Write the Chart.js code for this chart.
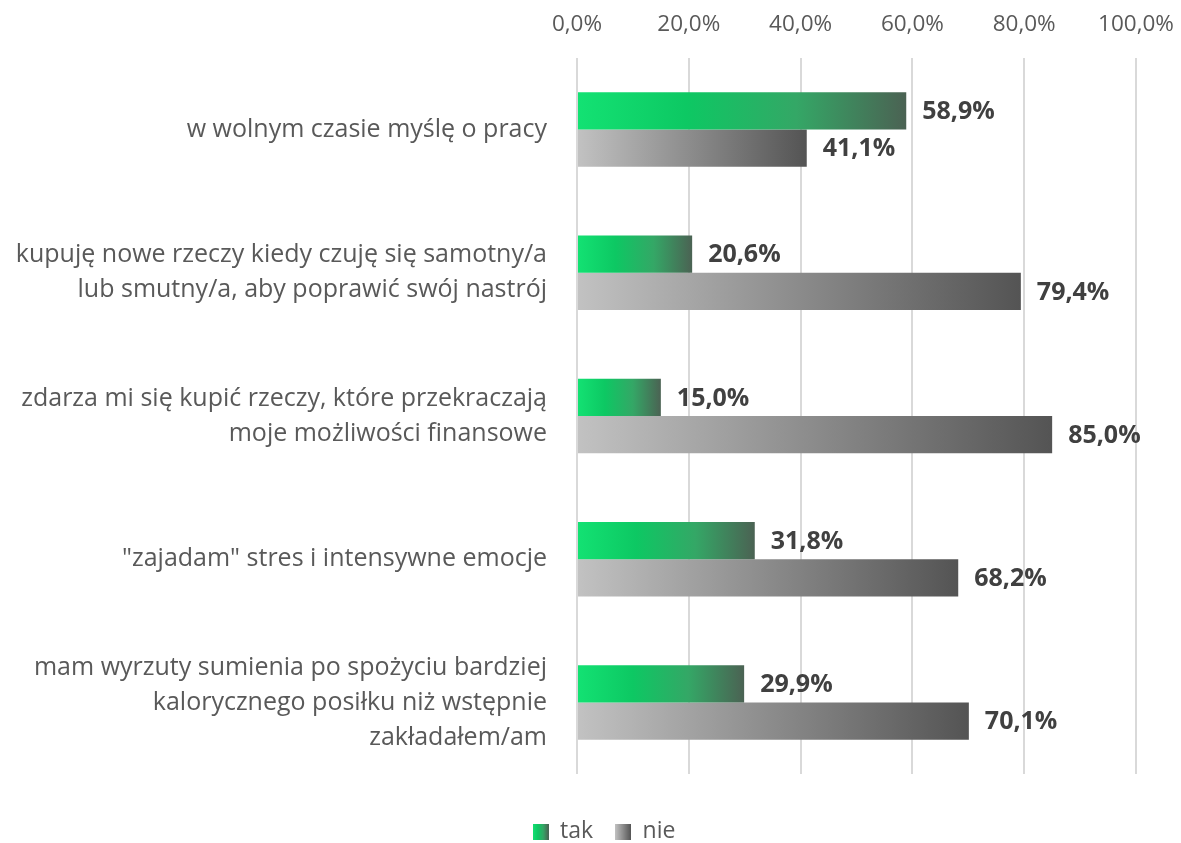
<!DOCTYPE html>
<html>
<head>
<meta charset="utf-8">
<script src="https://cdn.jsdelivr.net/npm/chart.js@4"></script>
<style>
  html, body { margin: 0; padding: 0; background: #fff; }
  #wrap { width: 1181px; height: 843px; }
</style>
</head>
<body>
<div id="wrap"><canvas id="chart"></canvas></div>
<script>
const categories = [
  'w wolnym czasie myślę o pracy',
  ['kupuję nowe rzeczy kiedy czuję się samotny/a', 'lub smutny/a, aby poprawić swój nastrój'],
  ['zdarza mi się kupić rzeczy, które przekraczają', 'moje możliwości finansowe'],
  '"zajadam" stres i intensywne emocje',
  ['mam wyrzuty sumienia po spożyciu bardziej', 'kalorycznego posiłku niż wstępnie', 'zakładałem/am']
];
const takValues = [58.9, 20.6, 15.0, 31.8, 29.9];
const nieValues = [41.1, 79.4, 85.0, 68.2, 70.1];
const tickValues = [0, 20, 40, 60, 80, 100];

const greenStops = ['#13e273', '#0dc863', '#34a766', '#4b6253'];
const grayStops = ['#c2c2c2', '#545454'];

function pct(v) {
  return v.toFixed(1).replace('.', ',') + '%';
}

function barGradient(stops) {
  return function(context) {
    const chart = context.chart;
    if (!chart.chartArea || context.parsed === undefined) return stops[0];
    const x = chart.scales.x;
    const x0 = x.getPixelForValue(0);
    const x1 = x.getPixelForValue(context.parsed.x);
    if (!isFinite(x1) || x1 <= x0) return stops[0];
    const g = chart.ctx.createLinearGradient(x0, 0, x1, 0);
    stops.forEach((c, i) => g.addColorStop(i / (stops.length - 1), c));
    return g;
  };
}

function legendSwatch(stops) {
  const c = document.createElement('canvas');
  c.width = 16; c.height = 16;
  const cx = c.getContext('2d');
  const g = cx.createLinearGradient(0, 0, 16, 0);
  stops.forEach((s, i) => g.addColorStop(i / (stops.length - 1), s));
  cx.fillStyle = g;
  cx.fillRect(0, 0, 16, 16);
  return c;
}

// etykiety wartosci przy slupkach
const valueLabels = {
  id: 'valueLabels',
  afterDatasetsDraw(chart) {
    const ctx = chart.ctx;
    ctx.save();
    ctx.font = 'bold 25px "Open Sans"';
    ctx.fillStyle = '#404040';
    ctx.textAlign = 'left';
    ctx.textBaseline = 'middle';
    chart.data.datasets.forEach((ds, i) => {
      chart.getDatasetMeta(i).data.forEach((bar, j) => {
        ctx.fillText(pct(ds.data[j]), bar.x + 16, bar.y + 1);
      });
    });
    ctx.restore();
  }
};

// legenda troche nizej i w prawo, jak w oryginale
const legendShift = {
  id: 'legendShift',
  afterLayout(chart) {
    const lg = chart.legend;
    if (!lg) return;
    lg.top += 24; lg.bottom += 24;
    lg.left += 36; lg.right += 36;
  }
};

new Chart(document.getElementById('chart'), {
  type: 'bar',
  data: {
    labels: categories,
    datasets: [{
      label: 'tak',
      data: takValues,
      backgroundColor: barGradient(greenStops),
      barPercentage: 1,
      categoryPercentage: 0.52
    }, {
      label: 'nie',
      data: nieValues,
      backgroundColor: barGradient(grayStops),
      barPercentage: 1,
      categoryPercentage: 0.52
    }]
  },
  options: {
    indexAxis: 'y',
    responsive: true,
    maintainAspectRatio: false,
    animation: false,
    layout: { padding: { left: 0, right: 45, top: 0, bottom: 14 } },
    scales: {
      x: {
        position: 'top',
        min: 0,
        max: 100,
        afterBuildTicks: s => { s.ticks = tickValues.map(v => ({ value: v })); },
        afterFit: s => { s.height = 58; s.paddingLeft = 0; s.paddingRight = 0; },
        grid: { color: '#d9d9d9', lineWidth: 2, drawTicks: false },
        border: { display: false },
        ticks: {
          color: '#595959',
          font: { family: 'Open Sans', size: 22.5 },
          padding: 20,
          callback: v => pct(v)
        }
      },
      y: {
        afterFit: s => { s.width = 577; s.paddingTop = 0; s.paddingBottom = 0; },
        grid: { display: false },
        border: { display: false },
        ticks: {
          color: '#595959',
          font: { family: 'Open Sans', size: 25, lineHeight: 1.4 },
          padding: 22,
          crossAlign: 'near'
        }
      }
    },
    plugins: {
      tooltip: { enabled: false },
      legend: {
        position: 'bottom',
        labels: {
          color: '#595959',
          font: { family: 'Open Sans', size: 23 },
          usePointStyle: true,
          boxWidth: 16,
          boxHeight: 16,
          padding: 22,
          generateLabels: chart => chart.data.datasets.map((ds, i) => ({
            text: ds.label,
            pointStyle: legendSwatch(i === 0 ? greenStops : grayStops),
            fontColor: '#595959',
            datasetIndex: i,
            hidden: false
          }))
        }
      }
    }
  },
  plugins: [valueLabels, legendShift]
});
</script>
</body>
</html>
